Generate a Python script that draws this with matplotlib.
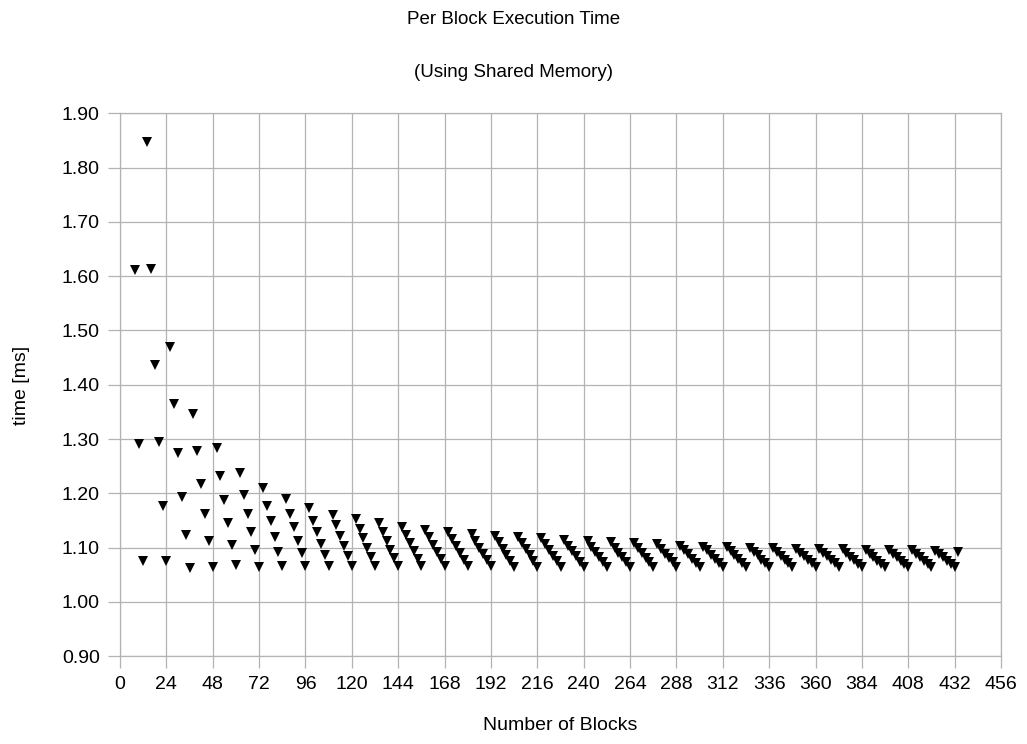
import numpy as np
import matplotlib.pyplot as plt

# number of blocks launched, one row per "wave" of 12 blocks
blocks = [
    8, 10, 12,
    14, 16, 18, 20, 22, 24,
    26, 28, 30, 32, 34, 36,
    38, 40, 42, 44, 46, 48,
    50, 52, 54, 56, 58, 60,
    62, 64, 66, 68, 70, 72,
    74, 76, 78, 80, 82, 84,
    86, 88, 90, 92, 94, 96,
    98, 100, 102, 104, 106, 108,
    110, 112, 114, 116, 118, 120,
    122, 124, 126, 128, 130, 132,
    134, 136, 138, 140, 142, 144,
    146, 148, 150, 152, 154, 156,
    158, 160, 162, 164, 166, 168,
    170, 172, 174, 176, 178, 180,
    182, 184, 186, 188, 190, 192,
    194, 196, 198, 200, 202, 204,
    206, 208, 210, 212, 214, 216,
    218, 220, 222, 224, 226, 228,
    230, 232, 234, 236, 238, 240,
    242, 244, 246, 248, 250, 252,
    254, 256, 258, 260, 262, 264,
    266, 268, 270, 272, 274, 276,
    278, 280, 282, 284, 286, 288,
    290, 292, 294, 296, 298, 300,
    302, 304, 306, 308, 310, 312,
    314, 316, 318, 320, 322, 324,
    326, 328, 330, 332, 334, 336,
    338, 340, 342, 344, 346, 348,
    350, 352, 354, 356, 358, 360,
    362, 364, 366, 368, 370, 372,
    374, 376, 378, 380, 382, 384,
    386, 388, 390, 392, 394, 396,
    398, 400, 402, 404, 406, 408,
    410, 412, 414, 416, 418, 420,
    422, 424, 426, 428, 430, 432,
    434,
]

# per block time [ms]
time_ms = [
    1.612, 1.291, 1.075,
    1.847, 1.614, 1.436, 1.294, 1.177, 1.075,
    1.470, 1.365, 1.274, 1.194, 1.124, 1.062,
    1.346, 1.278, 1.218, 1.162, 1.112, 1.065,
    1.283, 1.232, 1.188, 1.145, 1.105, 1.068,
    1.237, 1.197, 1.162, 1.128, 1.096, 1.065,
    1.210, 1.177, 1.150, 1.119, 1.093, 1.067,
    1.190, 1.162, 1.138, 1.113, 1.090, 1.067,
    1.173, 1.149, 1.128, 1.107, 1.086, 1.066,
    1.161, 1.142, 1.122, 1.103, 1.085, 1.066,
    1.153, 1.135, 1.117, 1.099, 1.082, 1.066,
    1.146, 1.129, 1.112, 1.096, 1.081, 1.066,
    1.139, 1.124, 1.109, 1.094, 1.080, 1.066,
    1.133, 1.119, 1.105, 1.092, 1.079, 1.066,
    1.129, 1.116, 1.103, 1.090, 1.078, 1.066,
    1.125, 1.112, 1.100, 1.089, 1.077, 1.066,
    1.122, 1.110, 1.098, 1.087, 1.076, 1.065,
    1.120, 1.108, 1.097, 1.086, 1.075, 1.065,
    1.117, 1.106, 1.095, 1.085, 1.075, 1.065,
    1.114, 1.104, 1.094, 1.084, 1.074, 1.065,
    1.112, 1.102, 1.093, 1.083, 1.074, 1.065,
    1.110, 1.100, 1.091, 1.082, 1.073, 1.065,
    1.108, 1.099, 1.090, 1.081, 1.073, 1.065,
    1.106, 1.097, 1.089, 1.081, 1.073, 1.065,
    1.104, 1.096, 1.088, 1.080, 1.072, 1.065,
    1.102, 1.095, 1.087, 1.079, 1.072, 1.065,
    1.102, 1.094, 1.086, 1.079, 1.072, 1.065,
    1.100, 1.093, 1.086, 1.078, 1.071, 1.064,
    1.100, 1.092, 1.085, 1.078, 1.071, 1.064,
    1.098, 1.091, 1.084, 1.077, 1.071, 1.064,
    1.098, 1.091, 1.084, 1.077, 1.071, 1.064,
    1.097, 1.090, 1.083, 1.077, 1.070, 1.064,
    1.096, 1.089, 1.083, 1.076, 1.070, 1.064,
    1.096, 1.089, 1.082, 1.076, 1.070, 1.064,
    1.095, 1.088, 1.082, 1.076, 1.070, 1.064,
    1.094, 1.088, 1.082, 1.076, 1.070, 1.064,
    1.092,
]

x_ticks = list(range(0, 457, 24))
y_ticks = [0.90, 1.00, 1.10, 1.20, 1.30, 1.40, 1.50, 1.60, 1.70, 1.80, 1.90]

plt.rcParams['font.family'] = ['Liberation Sans', 'DejaVu Sans']
plt.rcParams['font.size'] = 14

grid_col = '#b3b3b3'
W, H = 1027, 744

fig = plt.figure(figsize=(W / 100, H / 100), dpi=100)
ax = fig.add_axes([120 / W, 1 - 656.3 / H, (1001 - 120) / W, (656.3 - 113.3) / H])

ax.plot(blocks, time_ms, linestyle='none', marker='v', markersize=7.5,
        color='black', markeredgewidth=0, zorder=3)

ax.set_xlim(0, 456)
ax.set_ylim(0.9, 1.9)
ax.set_xticks(x_ticks)
ax.set_yticks(y_ticks)
ax.set_yticklabels(['%.2f' % v for v in y_ticks])
ax.grid(True, color=grid_col, linewidth=0.9)
ax.set_axisbelow(True)
ax.tick_params(length=8.5, width=0.9, color=grid_col, pad=6, labelsize=14)
for s in ax.spines.values():
    s.set_color(grid_col)
    s.set_linewidth(0.9)

fig.text(0.5, 1 - 19 / H, 'Per Block Execution Time', ha='center', va='center', fontsize=13.5)
fig.text(0.5, 1 - 72.7 / H, '(Using Shared Memory)', ha='center', va='center', fontsize=13.5)
fig.text(560 / W, 1 - 725 / H, 'Number of Blocks', ha='center', va='center', fontsize=14)
fig.text(22 / W, 1 - 385 / H, 'time [ms]', ha='center', va='center', rotation=90, fontsize=14)

fig.savefig('out.png', dpi=100)
